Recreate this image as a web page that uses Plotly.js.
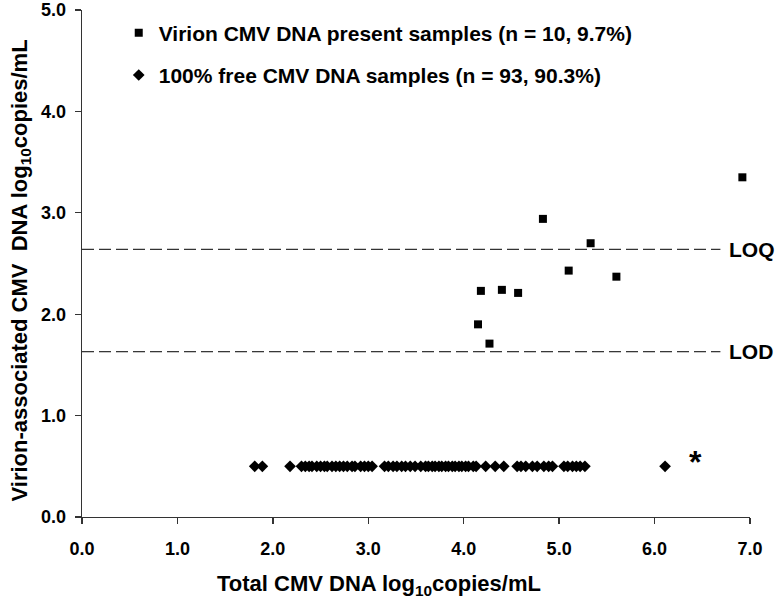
<!DOCTYPE html>
<html>
<head>
<meta charset="utf-8">
<script src="https://cdn.plot.ly/plotly-3.0.1.min.js"></script>
<style>html,body{margin:0;padding:0;background:#fff;}#chart{width:784px;height:606px;}</style>
</head>
<body>
<div id="chart"></div>
<script>
// Virion CMV DNA present samples (n = 10)
var virionX = [6.92, 4.83, 5.33, 5.10, 5.60, 4.18, 4.40, 4.57, 4.15, 4.27];
var virionY = [3.35, 2.94, 2.70, 2.43, 2.37, 2.23, 2.24, 2.21, 1.90, 1.71];

// 100% free CMV DNA samples (plotted at 0.5)
var freeX = [1.81, 1.89, 2.18, 2.30, 2.34, 2.38, 2.41, 2.46, 2.50, 2.54, 2.57, 2.62, 2.66,
  2.70, 2.74, 2.78, 2.83, 2.86, 2.92, 2.96, 3.00, 3.04, 3.17, 3.21, 3.26, 3.30, 3.35, 3.39,
  3.44, 3.49, 3.55, 3.60, 3.63, 3.67, 3.70, 3.74, 3.77, 3.81, 3.84, 3.88, 3.91, 3.95, 3.98,
  4.02, 4.05, 4.10, 4.13, 4.23, 4.33, 4.42, 4.56, 4.60, 4.65, 4.72, 4.77, 4.84, 4.89, 4.93,
  5.05, 5.09, 5.14, 5.18, 5.22, 5.27, 6.11];
var freeY = freeX.map(function(){ return 0.5; });

// Limits
var limitNames = ["LOQ", "LOD"];
var limitValues = [2.64, 1.63];
var limitXRange = [0, 6.69];

var xTicks = [0, 1, 2, 3, 4, 5, 6, 7];
var yTicks = [0, 1, 2, 3, 4, 5];

var legendNames = ["Virion CMV DNA present samples (n = 10, 9.7%)",
                   "100% free CMV DNA samples (n = 93, 90.3%)"];

var FONT = "Liberation Sans, Arial, sans-serif";

var traces = [
  {x: virionX, y: virionY, type: "scatter", mode: "markers", name: legendNames[0],
   legendgroup: "a", cliponaxis: false,
   marker: {symbol: "square", size: 8, color: "#000"}},
  {x: freeX, y: freeY, type: "scatter", mode: "markers", name: legendNames[1],
   legendgroup: "b", cliponaxis: false,
   marker: {symbol: "diamond", size: 9, color: "#000"}}
];
limitValues.forEach(function(v, i){
  traces.push({x: limitXRange, y: [v, v], type: "scatter", mode: "lines", showlegend: false,
    hoverinfo: "skip", line: {color: "#000", width: 1, dash: "12px,5px"}});
});

var annotations = limitNames.map(function(n, i){
  return {x: 1, xref: "paper", xanchor: "left", xshift: -23, y: limitValues[i], yref: "y",
    yanchor: "middle", text: n, showarrow: false,
    font: {family: FONT, size: 21, color: "#000", weight: "bold"}};
});
annotations.push({x: 6.43, y: 0.54, xref: "x", yref: "y", text: "*", showarrow: false,
  font: {family: FONT, size: 32, color: "#000", weight: "bold"}});
annotations.push({x: 0.445, xref: "paper", xanchor: "center", y: 0, yref: "paper",
  yanchor: "middle", yshift: -68, showarrow: false,
  text: "Total CMV DNA log<sub>10</sub>copies/mL",
  font: {family: FONT, size: 22, color: "#000", weight: "bold"}});
annotations.push({x: 0, xref: "paper", xshift: -62, xanchor: "center", y: 0.5, yref: "paper",
  yanchor: "middle", yshift: -7, textangle: -90, showarrow: false,
  text: "Virion-associated CMV  DNA log<sub>10</sub>copies/mL",
  font: {family: FONT, size: 22, color: "#000", weight: "bold"}});

var layout = {
  width: 784, height: 606,
  margin: {l: 82, r: 34, t: 10, b: 89},
  paper_bgcolor: "#fff", plot_bgcolor: "#fff",
  showlegend: true,
  legend: {x: 0.055, y: 0.995, xanchor: "left", yanchor: "top", bgcolor: "rgba(0,0,0,0)",
    font: {family: FONT, size: 21, color: "#000", weight: "bold"},
    traceorder: "grouped", tracegroupgap: 12, itemwidth: 30},
  xaxis: {range: [0, 7], tickvals: xTicks, tickformat: ".1f", showgrid: false, zeroline: false,
    showline: true, linecolor: "#333", linewidth: 1.3, ticks: "outside", ticklen: 6,
    tickcolor: "#333", tickwidth: 1.3, ticklabelstandoff: 9,
    tickfont: {family: FONT, size: 18, color: "#000", weight: "bold"}},
  yaxis: {range: [0, 5], tickvals: yTicks, tickformat: ".1f", showgrid: false, zeroline: false,
    showline: true, linecolor: "#333", linewidth: 1.3, ticks: "outside", ticklen: 6,
    tickcolor: "#333", tickwidth: 1.3, ticklabelstandoff: 5,
    tickfont: {family: FONT, size: 18, color: "#000", weight: "bold"}},
  annotations: annotations
};

Plotly.newPlot("chart", traces, layout, {displayModeBar: false, staticPlot: true});
</script>
</body>
</html>
